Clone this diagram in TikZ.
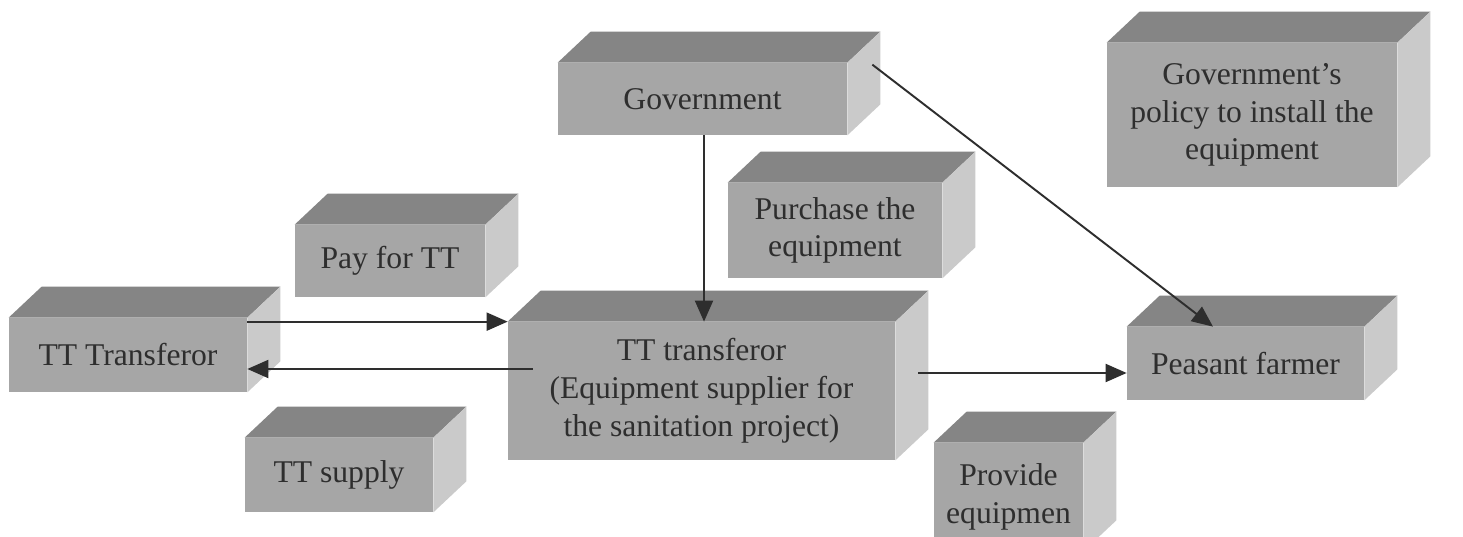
\documentclass[tikz,border=0pt]{standalone}
\usepackage{fontspec}
\setmainfont{Liberation Serif}
\usepackage{xcolor}
\usepackage{tikz}
\usetikzlibrary{positioning, arrows.meta, calc}
\definecolor{frontgray}{HTML}{A6A6A6}
\definecolor{topgray}{HTML}{858585}
\definecolor{sidegray}{HTML}{CACACA}
\definecolor{inkgray}{HTML}{2E2E2E}

\begin{document}
\begin{tikzpicture}[font=\fontsize{18}{21.5}\selectfont, text=inkgray,
  box/.style={fill=frontgray, inner sep=0pt, align=center},
  link/.style={-{Triangle[length=0.42cm, width=0.36cm]}, inkgray, line width=1.1pt}]
  \useasboundingbox (0,0) rectangle (29.26,10.74);
  \fill[white] (0,0) rectangle (29.26,10.74);

  % front faces of the blocks
  \node[box, minimum width=5.78cm, minimum height=1.44cm] (gov) at (14.05,8.76) {Government};
  \node[box, minimum width=4.28cm, minimum height=1.90cm] (buy) at (16.70,6.13)
    {Purchase the\\equipment};
  \node[box, minimum width=5.80cm, minimum height=2.88cm] (policy) at (25.04,8.44)
    {Government's\\policy to install the\\equipment};
  \node[box, minimum width=3.80cm, minimum height=1.44cm] (pay) at (7.80,5.52) {Pay for TT};
  \node[box, minimum width=4.76cm, minimum height=1.48cm] (seller) at (2.56,3.64) {TT Transferor};
  \node[box, minimum width=3.76cm, minimum height=1.48cm] (supply) at (6.78,1.24) {TT supply};
  \node[box, minimum width=7.74cm, minimum height=2.76cm] (supplier) at (14.03,2.92)
    {TT transferor\\(Equipment supplier for\\the sanitation project)};
  \node[box, minimum width=4.74cm, minimum height=1.46cm] (farmer) at (24.91,3.47) {Peasant farmer};
  \node[box, minimum width=2.98cm, minimum height=2.16cm] (provide) at (20.17,0.80)
    {Provide\\equipmen};

  % top and right faces, same depth for every block
  \foreach \b in {gov,buy,policy,pay,seller,supply,supplier,farmer,provide} {
    \fill[topgray] (\b.north west) -- ++(0.66,0.62) -- ($(\b.north east)+(0.66,0.62)$)
      -- (\b.north east) -- cycle;
    \fill[sidegray] (\b.north east) -- ++(0.66,0.62) -- ($(\b.south east)+(0.66,0.62)$)
      -- (\b.south east) -- cycle;
  }

  % flows between the blocks
  \draw[link] ([xshift=0.03cm]gov.south) -- ([xshift=0.03cm]gov.south |- supplier.north);
  \draw[link] ([yshift=-0.08cm]seller.north east) -- ([yshift=-0.08cm]seller.north east -| supplier.west);
  \draw[link] ([shift={(0.5cm,0.44cm)}]supplier.west) -- ([yshift=0.44cm]supplier.west -| seller.east);
  \draw[link] ([shift={(0.46cm,0.36cm)}]supplier.east) -- ([yshift=0.36cm]supplier.east -| farmer.west);
  \draw[link] ([shift={(0.5cm,-0.04cm)}]gov.north east) -- ([xshift=-0.65cm]farmer.north);
\end{tikzpicture}
\end{document}
